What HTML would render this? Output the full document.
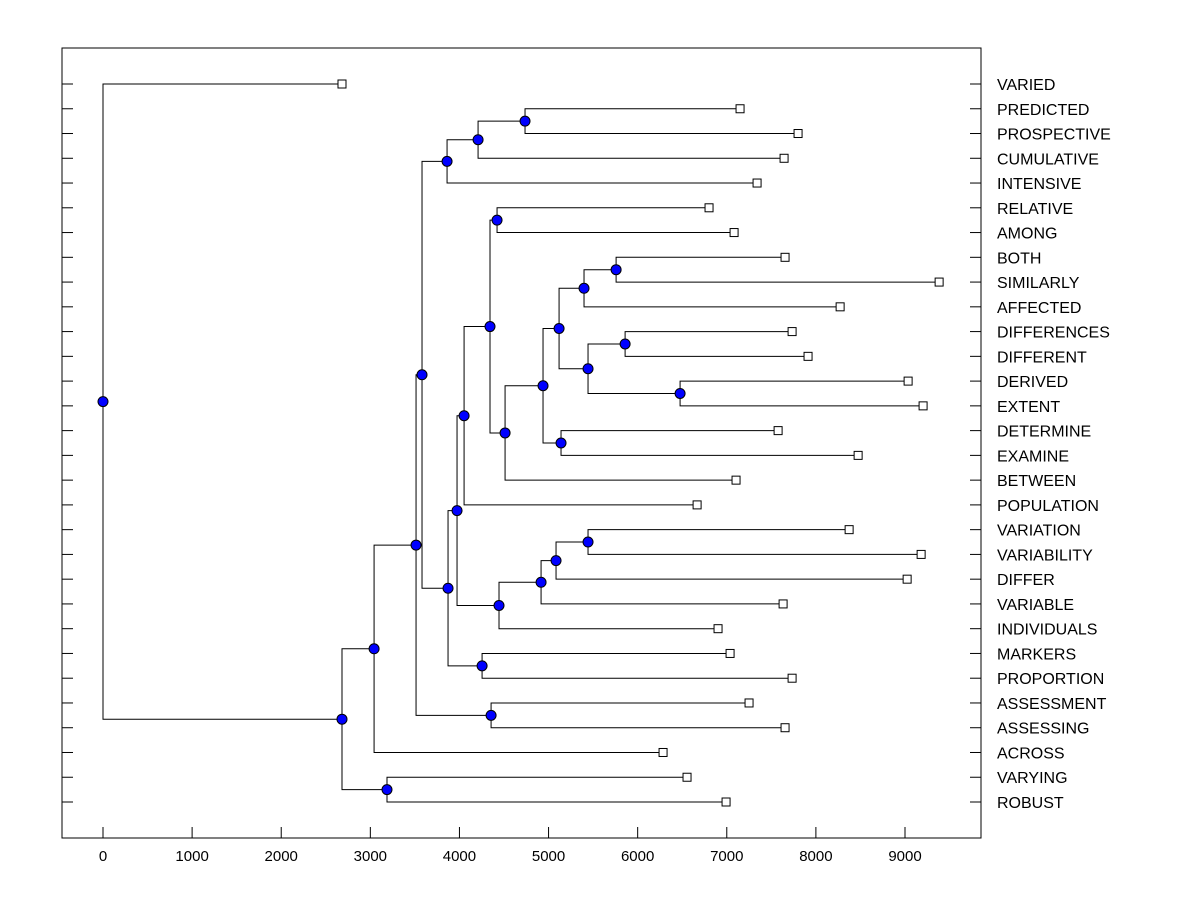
<!DOCTYPE html>
<html><head><meta charset="utf-8"><style>
body{margin:0;background:#fff;}
svg{display:block;font-family:"Liberation Sans",Arial,sans-serif;}
</style></head><body>
<svg id="chart" width="1200" height="900" viewBox="0 0 1200 900"></svg>
<script>
const leafNames=["VARIED","PREDICTED","PROSPECTIVE","CUMULATIVE","INTENSIVE","RELATIVE","AMONG","BOTH","SIMILARLY","AFFECTED","DIFFERENCES","DIFFERENT","DERIVED","EXTENT","DETERMINE","EXAMINE","BETWEEN","POPULATION","VARIATION","VARIABILITY","DIFFER","VARIABLE","INDIVIDUALS","MARKERS","PROPORTION","ASSESSMENT","ASSESSING","ACROSS","VARYING","ROBUST"];
const leafValues=[2682,7149,7800,7643,7340,6801,7082,7654,9383,8272,7733,7912,9035,9203,7576,8474,7104,6667,8373,9181,9024,7632,6902,7037,7733,7250,7654,6285,6554,6992];
const mergeLeft=[1,30,31,5,7,34,10,12,36,35,14,39,41,33,43,18,45,46,47,44,23,49,32,25,52,54,28,55,0];
const mergeRight=[2,3,4,6,8,9,11,13,37,38,15,40,16,42,17,19,20,21,22,48,24,50,51,26,53,27,29,56,57];
const mergeHeight=[4736,4209,3861,4422,5758,5398,5859,6476,5443,5118,5140,4938,4512,4343,4052,5443,5084,4916,4444,3973,4254,3872,3580,4355,3513,3042,3187,2682,0];
const xTicks=[0,1000,2000,3000,4000,5000,6000,7000,8000,9000];

const NS="http://www.w3.org/2000/svg";
const svg=document.getElementById('chart');
const L=62,R=981,T=48,B=838;
const x=v=>103+v*(802/9000);
const y=i=>84+i*(718/(leafNames.length-1));
function mk(tag,attrs,parent){const e=document.createElementNS(NS,tag);for(const k in attrs)e.setAttribute(k,attrs[k]);(parent||svg).appendChild(e);return e;}

const frame=mk('rect',{x:L,y:T,width:R-L,height:B-T,fill:'none',stroke:'#000','stroke-width':1});



const n=leafNames.length;
const pos={};
for(let i=0;i<n;i++){pos[i]={x:x(leafValues[i]),y:y(i)};}
const lines=mk('g',{stroke:'#000','stroke-width':1,fill:'none'});


const nodes=[];
for(let m=0;m<mergeLeft.length;m++){
  const a=pos[mergeLeft[m]],b=pos[mergeRight[m]];
  const px=x(mergeHeight[m]);
  const py=(a.y+b.y)/2;
  mk('path',{d:`M${a.x} ${a.y}H${px}V${b.y}H${b.x}`},lines);
  pos[n+m]={x:px,y:py};
  nodes.push([px,py]);
}
for(let i=0;i<n;i++){
  const yy=y(i);
  const t1=mk('line',{x1:L,x2:L+11,y1:yy,y2:yy,stroke:'#000'});
  
  
  const t2=mk('line',{x1:R-11,x2:R,y1:yy,y2:yy,stroke:'#000'});
  
  
  const lb=mk('text',{x:997,y:yy+6,'font-size':16,fill:'#000'});
  lb.textContent=leafNames[i];
  
  
  const sq=mk('rect',{x:pos[i].x-4,y:yy-4,width:8,height:8,fill:'#fff',stroke:'#000'});
  
  
}
nodes.forEach(([px,py])=>{
  const c=mk('circle',{cx:px,cy:py,r:5,fill:'#0000ff',stroke:'#000','stroke-width':1});
  
  
});
xTicks.forEach(v=>{
  const xx=x(v);
  const t=mk('line',{x1:xx,x2:xx,y1:B-11,y2:B,stroke:'#000'});
  
  
  const lb=mk('text',{x:xx,y:861,'font-size':15,'text-anchor':'middle',fill:'#000'});
  lb.textContent=v;
  
  
});
</script>
</body></html>
